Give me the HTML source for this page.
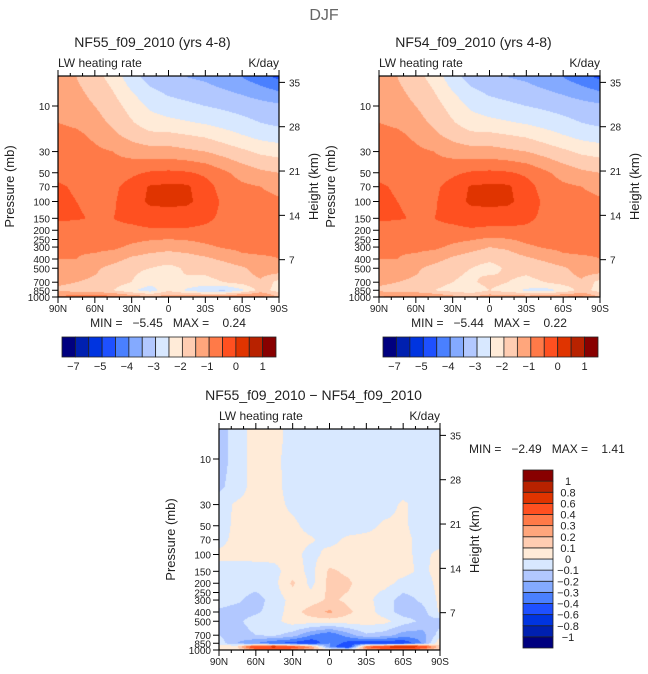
<!DOCTYPE html>
<html><head><meta charset="utf-8"><style>
html,body{margin:0;padding:0;background:#fff;}
#wrap{position:relative;width:648px;height:674px;overflow:hidden;font-family:"Liberation Sans",sans-serif;}
canvas{position:absolute;}
svg{position:absolute;left:0;top:0;}
svg text{white-space:pre;}
</style></head><body>
<div id="wrap">
<canvas id="c1"></canvas>
<canvas id="c2"></canvas>
<canvas id="c3"></canvas>
<svg id="ov" width="648" height="674"></svg>
</div>
<script>
const lats=[90,75,60,45,30,15,0,-15,-30,-45,-60,-75,-90];
const pLevels=[5,7,10,15,20,30,50,70,100,150,200,300,400,500,700,850,1000];
const lwNF55=[
[-1.3,-1.5,-1.8,-2.2,-2.8,-3.2,-3.4,-3.5,-3.6,-3.8,-4.0,-4.3,-4.6],
[-1.25,-1.4,-1.65,-2.0,-2.5,-2.9,-3.1,-3.2,-3.3,-3.45,-3.6,-3.8,-4.0],
[-1.2,-1.3,-1.5,-1.8,-2.2,-2.6,-2.8,-2.9,-3.0,-3.1,-3.2,-3.3,-3.4],
[-1.0,-1.1,-1.3,-1.6,-1.95,-2.25,-2.35,-2.45,-2.55,-2.7,-2.85,-3.0,-3.1],
[-0.8,-0.9,-1.1,-1.4,-1.7,-1.9,-1.9,-2.0,-2.1,-2.3,-2.5,-2.7,-2.8],
[-0.7,-0.8,-0.9,-1.0,-1.2,-1.3,-1.3,-1.4,-1.5,-1.7,-1.9,-2.1,-2.2],
[-0.6,-0.65,-0.75,-0.8,-0.6,-0.45,-0.4,-0.45,-0.6,-0.9,-1.2,-1.4,-1.5],
[-0.45,-0.55,-0.7,-0.6,-0.3,0.05,0.1,0.08,-0.3,-0.7,-0.9,-1.0,-1.1],
[-0.4,-0.5,-0.6,-0.55,-0.25,0.1,0.15,0.1,-0.2,-0.6,-0.8,-0.9,-0.95],
[-0.4,-0.45,-0.55,-0.5,-0.4,-0.3,-0.3,-0.3,-0.4,-0.6,-0.75,-0.8,-0.85],
[-0.8,-0.8,-0.7,-0.6,-0.6,-0.55,-0.55,-0.55,-0.6,-0.7,-0.8,-0.85,-0.9],
[-1.0,-0.95,-0.9,-0.9,-1.1,-1.3,-1.4,-1.3,-1.1,-0.95,-0.9,-0.9,-0.95],
[-1.0,-1.0,-1.1,-1.3,-1.6,-1.7,-1.7,-1.7,-1.6,-1.4,-1.1,-1.05,-1.0],
[-1.1,-1.2,-1.4,-1.7,-1.9,-2.0,-2.2,-1.9,-1.9,-1.8,-1.6,-1.2,-1.1],
[-1.4,-1.5,-1.6,-1.8,-2.0,-2.3,-2.1,-2.1,-2.1,-2.0,-1.8,-1.6,-2.2],
[-1.6,-1.7,-1.8,-2.0,-2.4,-2.8,-2.1,-2.6,-3.0,-3.1,-2.6,-1.8,-2.2],
[-0.9,-0.7,-0.6,-0.8,-1.1,-1.3,-1.2,-1.1,-1.0,-0.9,-0.7,-0.8,-1.5]];
const lwNF54=[
[-1.3,-1.5,-1.8,-2.2,-2.8,-3.2,-3.4,-3.5,-3.6,-3.8,-4.0,-4.3,-4.6],
[-1.25,-1.4,-1.65,-2.0,-2.5,-2.9,-3.1,-3.2,-3.3,-3.45,-3.6,-3.8,-4.0],
[-1.2,-1.3,-1.5,-1.8,-2.2,-2.6,-2.8,-2.9,-3.0,-3.1,-3.2,-3.3,-3.4],
[-1.0,-1.1,-1.3,-1.6,-1.95,-2.25,-2.35,-2.45,-2.55,-2.7,-2.85,-3.0,-3.1],
[-0.8,-0.9,-1.1,-1.4,-1.7,-1.9,-1.9,-2.0,-2.1,-2.3,-2.5,-2.7,-2.8],
[-0.7,-0.8,-0.9,-1.0,-1.2,-1.3,-1.3,-1.4,-1.5,-1.7,-1.9,-2.1,-2.2],
[-0.6,-0.65,-0.75,-0.8,-0.6,-0.45,-0.4,-0.45,-0.6,-0.9,-1.2,-1.4,-1.5],
[-0.45,-0.55,-0.7,-0.6,-0.3,0.05,0.1,0.08,-0.3,-0.7,-0.9,-1.0,-1.1],
[-0.4,-0.5,-0.6,-0.55,-0.25,0.1,0.15,0.1,-0.2,-0.6,-0.8,-0.9,-0.95],
[-0.4,-0.45,-0.55,-0.5,-0.4,-0.3,-0.3,-0.3,-0.4,-0.6,-0.75,-0.8,-0.85],
[-0.8,-0.8,-0.7,-0.6,-0.6,-0.55,-0.6,-0.6,-0.6,-0.7,-0.8,-0.85,-0.9],
[-1.0,-0.95,-0.9,-0.9,-1.1,-1.3,-1.5,-1.4,-1.1,-0.95,-0.9,-0.9,-0.95],
[-1.0,-1.0,-1.1,-1.3,-1.6,-1.8,-1.9,-1.8,-1.6,-1.4,-1.1,-1.05,-1.0],
[-1.1,-1.2,-1.4,-1.7,-1.9,-2.0,-2.2,-1.9,-1.9,-1.8,-1.6,-1.2,-1.1],
[-1.4,-1.5,-1.6,-1.8,-2.0,-2.1,-1.8,-2.0,-2.1,-2.0,-1.8,-1.6,-2.2],
[-1.6,-1.7,-1.8,-2.0,-2.2,-2.4,-2.0,-2.3,-2.6,-2.7,-2.4,-1.8,-2.2],
[-1.0,-0.8,-0.8,-1.0,-1.3,-1.4,-1.2,-1.1,-1.2,-1.1,-0.9,-0.9,-1.5]];
const diffPLevels=[5,10,20,30,50,70,100,150,200,300,400,500,700,850,925,1000];
const lwDiff=[
[-0.15,-0.05,0.05,0.05,-0.05,-0.05,-0.05,-0.05,-0.05,-0.05,-0.05,-0.05,-0.05],
[-0.15,-0.05,0.05,0.03,-0.05,-0.05,-0.05,-0.05,-0.05,-0.05,-0.05,-0.05,-0.05],
[-0.12,-0.05,0.05,0.03,-0.04,-0.05,-0.05,-0.05,-0.05,-0.05,-0.05,-0.05,-0.05],
[-0.05,0.02,0.03,0.03,-0.02,-0.05,-0.05,-0.05,-0.05,-0.05,0.02,-0.05,-0.05],
[-0.05,0.03,0.03,0.03,0.02,-0.03,-0.05,-0.05,-0.03,0.02,0.02,-0.05,-0.05],
[-0.03,0.03,0.03,0.03,0.03,0.01,-0.03,0.02,0.03,0.03,0.03,-0.03,-0.03],
[0.02,0.03,0.03,0.03,0.03,-0.03,0.03,0.03,0.03,0.03,0.02,-0.02,0.02],
[-0.03,-0.05,-0.04,-0.03,0.05,-0.03,0.12,0.08,0.03,0.03,0.03,-0.02,0.03],
[-0.05,-0.05,-0.05,-0.03,0.12,-0.03,0.13,0.12,0.03,0.03,-0.03,-0.05,0.03],
[-0.05,-0.08,-0.15,-0.05,0.03,0.05,0.12,0.08,0.03,-0.05,-0.15,-0.08,0.02],
[-0.12,-0.15,-0.12,-0.05,0.05,0.15,0.22,0.12,0.05,-0.05,-0.15,-0.15,0.02],
[-0.15,-0.12,-0.05,-0.03,0.05,0.05,0.05,0.05,0.05,0.03,-0.05,-0.12,-0.15],
[-0.1,-0.15,-0.1,-0.08,-0.15,-0.3,-0.4,-0.25,-0.12,-0.15,-0.25,-0.25,-0.05],
[-0.05,-0.2,-0.3,-0.4,-0.45,-0.5,-0.3,-0.45,-0.5,-0.5,-0.5,-0.3,0.1],
[0.05,0.1,0.6,0.7,0.5,0.3,-0.3,-0.6,0.4,0.6,0.9,0.6,0.1],
[0.05,0.05,0.3,0.3,0.3,0.2,0.1,0.1,0.2,0.3,0.3,0.2,0.1]];
const cbLevelsTop=[-7,-6,-5,-4.5,-4,-3.5,-3,-2.5,-2,-1.5,-1,-0.5,0,0.5,1];
const cbLabelsTop=["−7","","−5","","−4","","−3","","−2","","−1","","0","","1"];
const cbLevelsDiff=[-1,-0.8,-0.6,-0.4,-0.3,-0.2,-0.1,0,0.1,0.2,0.3,0.4,0.6,0.8,1];
const cbLabelsDiff=["−1","−0.8","−0.6","−0.4","−0.3","−0.2","−0.1","0","0.1","0.2","0.3","0.4","0.6","0.8","1"];
const pressureTicks=[10,30,50,70,100,150,200,250,300,400,500,700,850,1000];
const heightTicks=[7,14,21,28,35];
const latTicks=[90,60,30,0,-30,-60,-90];
const latTickLabels=["90N","60N","30N","0","30S","60S","90S"];
const palette=["#00007f","#0020b0","#0034e0","#1e50ff","#4a80ff","#84aaff","#b2c8ff","#d8e8ff","#ffebd8","#ffcdb2","#ffa67c","#ff7a48","#ff5020","#e03400","#b82200","#880000"];

const NS="http://www.w3.org/2000/svg";
const ov=document.getElementById('ov');
function mk(tag,attrs,parent){const e=document.createElementNS(NS,tag);for(const k in attrs)e.setAttribute(k,attrs[k]);(parent||ov).appendChild(e);return e;}
function txt(x,y,s,size,anchor,name,rot){const t=mk('text',{x:x,y:y,'font-size':size,'text-anchor':anchor||'middle',fill:'#222','font-family':'Liberation Sans, sans-serif'});if(rot)t.setAttribute('transform','rotate(-90 '+x+' '+y+')');t.setAttributeNS('http://www.w3.org/XML/1998/namespace','xml:space','preserve');t.textContent=s;return t;}

const DEC=95.5;
function colorIdx(v,levels){let i=0;while(i<levels.length&&v>=levels[i])i++;return i;}
function interp(field,plevs,lat,p){
  let fx=(90-lat)/15; let i0=Math.min(11,Math.max(0,Math.floor(fx))); let tx=fx-i0;
  const lp=Math.log10(p); let j=0;
  while(j<plevs.length-2&&Math.log10(plevs[j+1])<lp)j++;
  const a=Math.log10(plevs[j]),b=Math.log10(plevs[j+1]);let ty=(lp-a)/(b-a);ty=Math.max(0,Math.min(1,ty));
  const v00=field[j][i0],v01=field[j][i0+1],v10=field[j+1][i0],v11=field[j+1][i0+1];
  return (v00*(1-tx)+v01*tx)*(1-ty)+(v10*(1-tx)+v11*tx)*ty;
}
function hexRGB(h){return [parseInt(h.substr(1,2),16),parseInt(h.substr(3,2),16),parseInt(h.substr(5,2),16)];}
const palRGB=palette.map(hexRGB);

function panel(cid,x0,y0,field,plevs,levels,opts){
  const w=221,h=221;const c=document.getElementById(cid);c.width=w;c.height=h;c.style.left=x0+'px';c.style.top=y0+'px';
  const ctx=c.getContext('2d');const img=ctx.createImageData(w,h);
  for(let py=0;py<h;py++){const p=Math.pow(10,3-(h-py-0.5)/DEC);
    for(let px=0;px<w;px++){const lat=90-(px+0.5)/w*180;const v=interp(field,plevs,lat,p);const col=palRGB[colorIdx(v,levels)];
      const k=(py*w+px)*4;img.data[k]=col[0];img.data[k+1]=col[1];img.data[k+2]=col[2];img.data[k+3]=255;}}
  ctx.putImageData(img,0,0);
  const g=mk('g',{});
  mk('rect',{x:x0,y:y0,width:w,height:h,fill:'none',stroke:'#000','stroke-width':1.2},g);
  const xOf=lat=>x0+(90-lat)/180*w;
  const yOfP=p=>y0+h-(3-Math.log10(p))*DEC;
  for(let lat=90;lat>=-90;lat-=10){const x=xOf(lat);const major=lat%30===0;const L=major?6:3;
    mk('line',{x1:x,y1:y0,x2:x,y2:y0-L,stroke:'#000','stroke-width':1},g);
    mk('line',{x1:x,y1:y0+h,x2:x,y2:y0+h+L,stroke:'#000','stroke-width':1},g);}
  latTicks.forEach((lat,i)=>txt(xOf(lat),y0+h+15,latTickLabels[i],10,'middle','x-tick-label'));
  pressureTicks.forEach(p=>{const y=yOfP(p);mk('line',{x1:x0,y1:y,x2:x0-6,y2:y,stroke:'#000'},g);txt(x0-8,y+4,String(p),10,'end','y-tick-label');});
  heightTicks.forEach(z=>{const p=1184*Math.exp(-z/6.55);const y=yOfP(p);mk('line',{x1:x0+w,y1:y,x2:x0+w+6,y2:y,stroke:'#000'},g);txt(x0+w+10,y+4,String(z),10,'start','right-tick-label');});
  txt(x0-44,y0+h/2,'Pressure (mb)',13,'middle','y-axis-title',true);
  txt(x0+w+39,y0+h/2,'Height (km)',13,'middle','right-axis-title',true);
  txt(x0,y0-9,'LW heating rate',12,'start','variable-label');
  txt(x0+w,y0-9,'K/day',12,'end','units-label');
  txt(x0+w/2-16,y0-29,opts.title,14,'middle','panel-title');
}
function hbar(x0,y0,w,h,labels,name){const g=mk('g',{});
  const bw=w/16;for(let i=0;i<16;i++){mk('rect',{x:x0+i*bw,y:y0,width:bw,height:h,fill:palette[i],stroke:'#222','stroke-width':0.8},g);}
  labels.forEach((s,i)=>{if(s)txt(x0+(i+1)*bw-(s.length>1?2:0),y0+h+13,s,11,'middle','colorbar-label');});}
function vbar(x0,y0,w,h,labels,name){const g=mk('g',{});
  const bh=h/16;for(let i=0;i<16;i++){mk('rect',{x:x0,y:y0+(15-i)*bh,width:w,height:bh,fill:palette[i],stroke:'#222','stroke-width':0.8},g);}
  labels.forEach((s,i)=>txt(x0+45,y0+(15-i)*bh+4,s,11,'middle','colorbar-label'));}

txt(324,20,'DJF',16,'middle','figure-title').setAttribute('fill','#666');
panel('c1',58,76,lwNF55,pLevels,cbLevelsTop,{name:'nf55',title:'NF55_f09_2010 (yrs 4-8)'});
panel('c2',379,76,lwNF54,pLevels,cbLevelsTop,{name:'nf54',title:'NF54_f09_2010 (yrs 4-8)'});
panel('c3',219,429,lwDiff,diffPLevels,cbLevelsDiff,{name:'diff',title:'NF55_f09_2010 − NF54_f09_2010'});
txt(168,327,'MIN =   −5.45   MAX =    0.24',12,'middle','min-max-nf55');
txt(489,327,'MIN =   −5.44   MAX =    0.22',12,'middle','min-max-nf54');
txt(469,453,'MIN =   −2.49   MAX =    1.41',12,'start','min-max-diff');
hbar(62,337,214,20,cbLabelsTop,'colorbar-nf55');
hbar(383,337,215,20,cbLabelsTop,'colorbar-nf54');
vbar(523,470,30,178,cbLabelsDiff,'colorbar-diff');
</script>
</body></html>
